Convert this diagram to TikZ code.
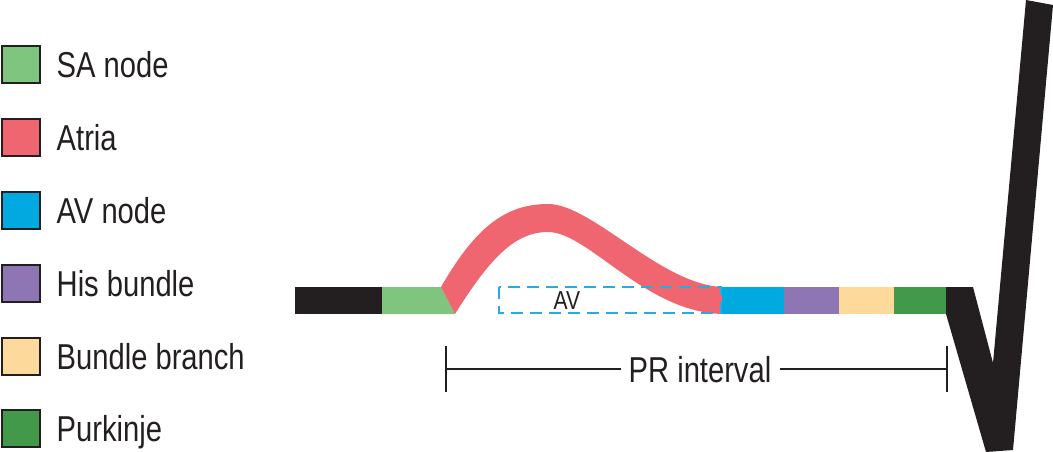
\documentclass[tikz,border=0pt]{standalone}
\usepackage{fontspec}
\setmainfont{Liberation Sans}[FakeStretch=0.81]
\usetikzlibrary{positioning}

\definecolor{ecgblack}{HTML}{231F20}
\definecolor{sagreen}{HTML}{7FC47F}
\definecolor{atriared}{HTML}{EF6670}
\definecolor{avblue}{HTML}{00A9E0}
\definecolor{hispurple}{HTML}{8E76B5}
\definecolor{branchyellow}{HTML}{FDD99B}
\definecolor{purkgreen}{HTML}{43994A}
\definecolor{avdash}{HTML}{29ABE2}

\tikzset{
  keybox/.style={draw=ecgblack, line width=2pt, minimum width=38pt, minimum height=37pt, inner sep=0pt},
  keytext/.style={inner sep=0pt, text height=26pt, text depth=0pt, text=ecgblack, font=\fontsize{36}{40}\selectfont},
  bracket/.style={draw=ecgblack, line width=2pt},
}

\begin{document}
\begin{tikzpicture}[x=1pt,y=-1pt]
\useasboundingbox (0,0) rectangle (1053,452);

% legend
\node [keybox, fill=sagreen] (sa) at (20.5,64.5) {};
\node [keytext, right=16pt of sa] (satext) {SA node};
\node [keybox, fill=atriared] (atria) at (20.5,137.5) {};
\node [keytext, right=16pt of atria] (atriatext) {Atria};
\node [keybox, fill=avblue] (avn) at (20.5,210.5) {};
\node [keytext, right=16pt of avn] (avntext) {AV node};
\node [keybox, fill=hispurple] (his) at (20.5,283) {};
\node [keytext, right=16pt of his] (histext) {His bundle};
\node [keybox, fill=branchyellow] (branch) at (20.5,356) {};
\node [keytext, right=16pt of branch] (branchtext) {Bundle branch};
\node [keybox, fill=purkgreen] (purk) at (20.5,428.5) {};
\node [keytext, right=16pt of purk] (purktext) {Purkinje};

% baseline and P wave
\fill [ecgblack] (295,287) rectangle (382,314);
\fill [sagreen] (382,287) -- (441,287) -- (455,314) -- (382,314) -- cycle;
\fill [atriared] (441,287) .. controls (475,228) and (505,204) .. (548,204)
  .. controls (592,204) and (660,284) .. (722,287) -- (722,314)
  .. controls (645,312) and (588,232) .. (548,232)
  .. controls (515,232) and (490,258) .. (455,314) -- cycle;

\draw [avdash, line width=2pt, dash pattern=on 12pt off 7pt] (499,287) rectangle (721,313);
\node (av) at (567,300) [keytext, text height=19pt, font=\fontsize{26}{30}\selectfont] {AV};

\fill [avblue] (722,287) rectangle (784,314);
\fill [hispurple] (784,287) rectangle (839,314);
\fill [branchyellow] (839,287) rectangle (894,314);
\fill [purkgreen] (894,287) rectangle (946,314);

% QRS
\fill [ecgblack] (946,287) -- (973,287) -- (993,363) -- (1026,0) -- (1053,5)
  -- (1013,450) -- (986,452) -- (946,314) -- cycle;

% PR interval
\coordinate (prl) at (446,369);
\coordinate (prr) at (947,369);
\node (pr) at (700,369) [keytext, inner xsep=8pt] {PR interval};
\draw [bracket] (446,346) -- (446,392) (947,346) -- (947,392);
\draw [bracket] (prl) -- (pr.west) (pr.east) -- (prr);

\end{tikzpicture}
\end{document}
